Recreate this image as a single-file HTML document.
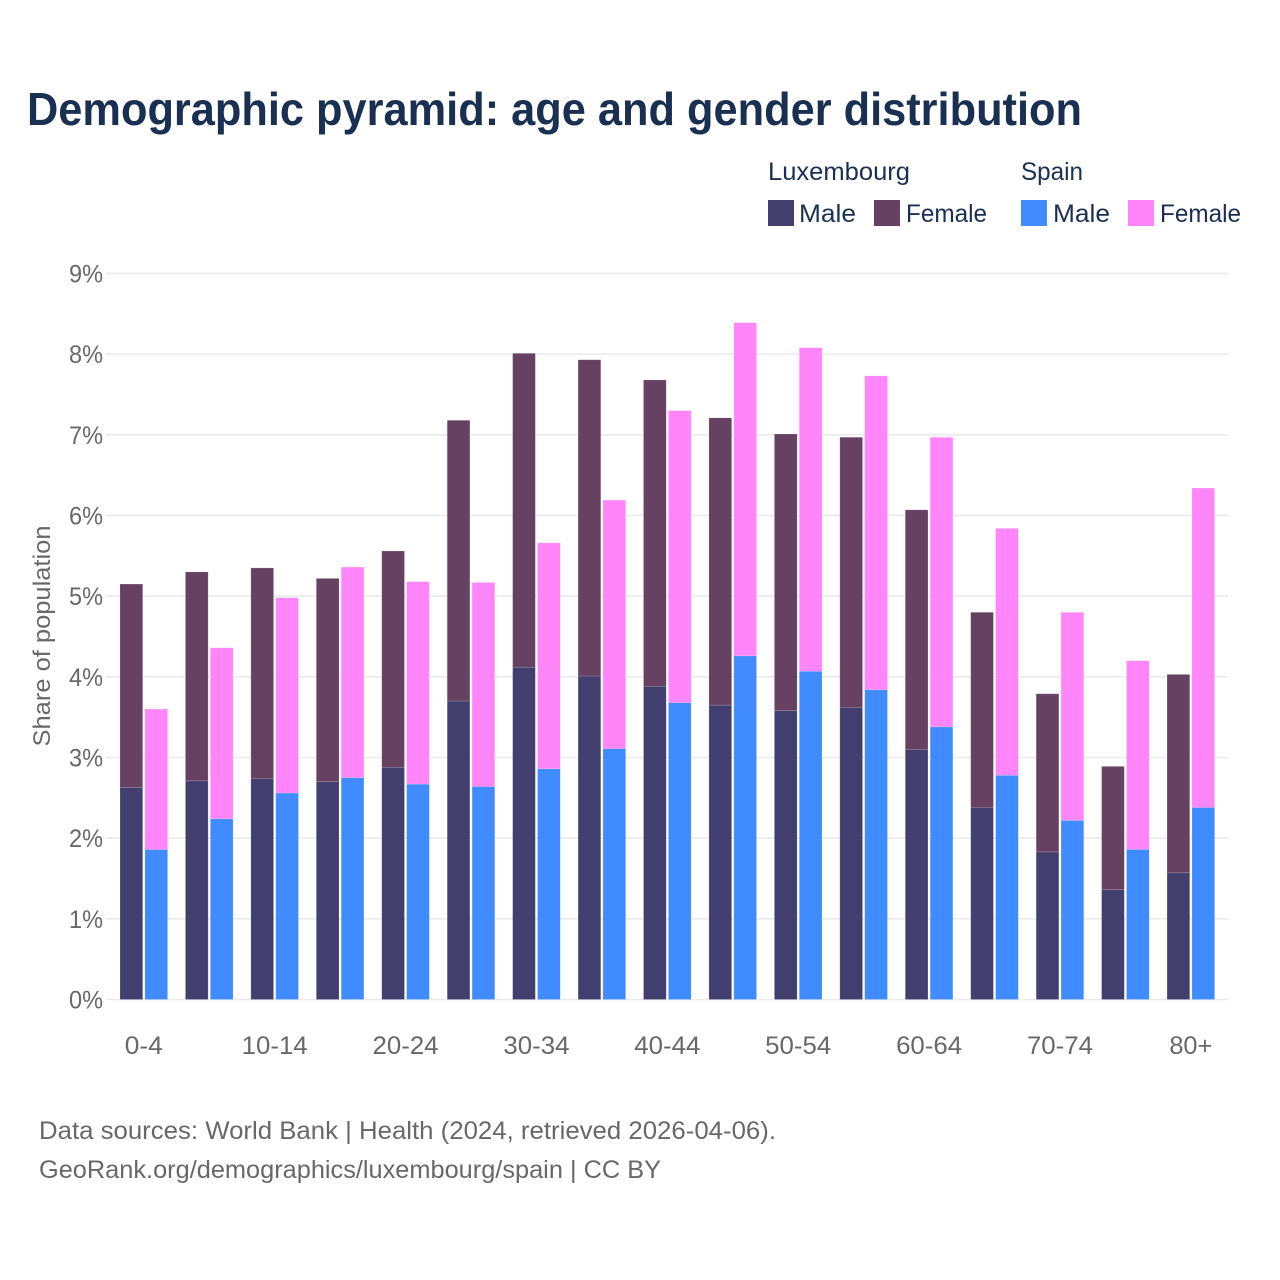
<!DOCTYPE html>
<html lang="en">
<head>
<meta charset="utf-8">
<title>Demographic pyramid: age and gender distribution</title>
<style>
html,body{margin:0;padding:0;background:#fff;}
svg{display:block;font-family:"Liberation Sans",sans-serif;}
</style>
</head>
<body>
<svg id="chart" xmlns="http://www.w3.org/2000/svg" width="1280" height="1280" viewBox="0 0 1280 1280">
<rect x="0" y="0" width="1280" height="1280" fill="#ffffff"/>
<text x="27" y="125" font-size="46" font-weight="700" fill="#1a3052" textLength="1055" lengthAdjust="spacingAndGlyphs">Demographic pyramid: age and gender distribution</text>

<g>
<text x="768" y="180" font-size="25" fill="#1a3052" textLength="142" lengthAdjust="spacingAndGlyphs">Luxembourg</text>
<text x="1021" y="180" font-size="25" fill="#1a3052" textLength="62" lengthAdjust="spacingAndGlyphs">Spain</text>
<rect x="768" y="200" width="26" height="26" fill="#423f6f"/>
<text x="799" y="222" font-size="25" fill="#1a3052" textLength="57" lengthAdjust="spacingAndGlyphs">Male</text>
<rect x="874" y="200" width="26" height="26" fill="#674162"/>
<text x="906" y="222" font-size="25" fill="#1a3052" textLength="81" lengthAdjust="spacingAndGlyphs">Female</text>
<rect x="1021" y="200" width="26" height="26" fill="#3f8bff"/>
<text x="1053" y="222" font-size="25" fill="#1a3052" textLength="57" lengthAdjust="spacingAndGlyphs">Male</text>
<rect x="1128" y="200" width="26" height="26" fill="#ff85f8"/>
<text x="1160" y="222" font-size="25" fill="#1a3052" textLength="81" lengthAdjust="spacingAndGlyphs">Female</text>
</g>

<g id="grid"></g>
<g id="ylabels"></g>
<g id="bars"></g>
<g id="xlabels"></g>

<text transform="translate(50,636) rotate(-90)" text-anchor="middle" font-size="24" fill="#68686c" textLength="221" lengthAdjust="spacingAndGlyphs">Share of population</text>

<text x="39" y="1139" font-size="25" fill="#68686c" textLength="737" lengthAdjust="spacingAndGlyphs">Data sources: World Bank | Health (2024, retrieved 2026-04-06).</text>
<text x="39" y="1178" font-size="25" fill="#68686c" textLength="622" lengthAdjust="spacingAndGlyphs">GeoRank.org/demographics/luxembourg/spain | CC BY</text>
</svg>
<script>
const ageGroups = ["0-4","5-9","10-14","15-19","20-24","25-29","30-34","35-39","40-44","45-49","50-54","55-59","60-64","65-69","70-74","75-79","80+"];
const xTickLabels = ["0-4","10-14","20-24","30-34","40-44","50-54","60-64","70-74","80+"];
const yTicks = [0,1,2,3,4,5,6,7,8,9];
const luxMale = [2.63,2.71,2.74,2.70,2.88,3.70,4.12,4.01,3.88,3.65,3.58,3.62,3.10,2.38,1.83,1.36,1.57];
const luxFemale = [2.52,2.59,2.61,2.52,2.68,3.48,3.89,3.92,3.80,3.56,3.43,3.35,2.97,2.42,1.96,1.53,2.46];
const spainMale = [1.86,2.24,2.56,2.75,2.67,2.64,2.86,3.11,3.68,4.26,4.07,3.84,3.38,2.78,2.22,1.86,2.38];
const spainFemale = [1.74,2.12,2.42,2.61,2.51,2.53,2.80,3.08,3.62,4.13,4.01,3.89,3.59,3.06,2.58,2.34,3.96];

const SVG_NS = "http://www.w3.org/2000/svg";
const plotLeft = 106, plotRight = 1228, y0 = 999.5, yPerUnit = 80.67;
const firstCenter = 143.8, groupStep = 65.44, barWidth = 22.7, barOffset = 12.45;
function yScale(v){ return y0 - v * yPerUnit; }
function xScale(i){ return firstCenter + i * groupStep; }

const gridG = document.getElementById("grid");
const yLabelG = document.getElementById("ylabels");
yTicks.forEach(function(t){
  const line = document.createElementNS(SVG_NS, "line");
  line.setAttribute("x1", plotLeft);
  line.setAttribute("x2", plotRight);
  line.setAttribute("y1", yScale(t));
  line.setAttribute("y2", yScale(t));
  line.setAttribute("stroke", "#ebebeb");
  line.setAttribute("stroke-width", "1.6");
  
  
  gridG.appendChild(line);
  const label = document.createElementNS(SVG_NS, "text");
  label.setAttribute("x", 103);
  label.setAttribute("y", yScale(t) + 9);
  label.setAttribute("text-anchor", "end");
  label.setAttribute("font-size", "25");
  label.setAttribute("fill", "#68686c");
  label.setAttribute("textLength", "34");
  label.setAttribute("lengthAdjust", "spacingAndGlyphs");
  label.textContent = t + "%";
  
  
  yLabelG.appendChild(label);
});

const barsG = document.getElementById("bars");
function addBar(x, v0, v1, color){
  const r = document.createElementNS(SVG_NS, "rect");
  r.setAttribute("x", x - barWidth / 2);
  r.setAttribute("y", yScale(v1));
  r.setAttribute("width", barWidth);
  r.setAttribute("height", yScale(v0) - yScale(v1));
  r.setAttribute("fill", color);
  r.setAttribute("stroke", "#ffffff");
  r.setAttribute("stroke-opacity", "0.25");
  r.setAttribute("stroke-width", "0.6");
  
  
  barsG.appendChild(r);
}
ageGroups.forEach(function(g, i){
  const c = xScale(i);
  addBar(c - barOffset, 0, luxMale[i], "#423f6f");
  addBar(c - barOffset, luxMale[i], luxMale[i] + luxFemale[i], "#674162");
  addBar(c + barOffset, 0, spainMale[i], "#3f8bff");
  addBar(c + barOffset, spainMale[i], spainMale[i] + spainFemale[i], "#ff85f8");
});

const xLabelG = document.getElementById("xlabels");
xTickLabels.forEach(function(lbl){
  const idx = ageGroups.indexOf(lbl);
  const t = document.createElementNS(SVG_NS, "text");
  t.setAttribute("x", xScale(idx));
  t.setAttribute("y", 1054);
  t.setAttribute("text-anchor", "middle");
  t.setAttribute("font-size", "25");
  t.setAttribute("fill", "#68686c");
  t.setAttribute("textLength", lbl.length === 3 && lbl !== "80+" ? "38" : (lbl === "80+" ? "43" : "66"));
  t.setAttribute("lengthAdjust", "spacingAndGlyphs");
  t.textContent = lbl;
  
  
  xLabelG.appendChild(t);
});
</script>
</body>
</html>
